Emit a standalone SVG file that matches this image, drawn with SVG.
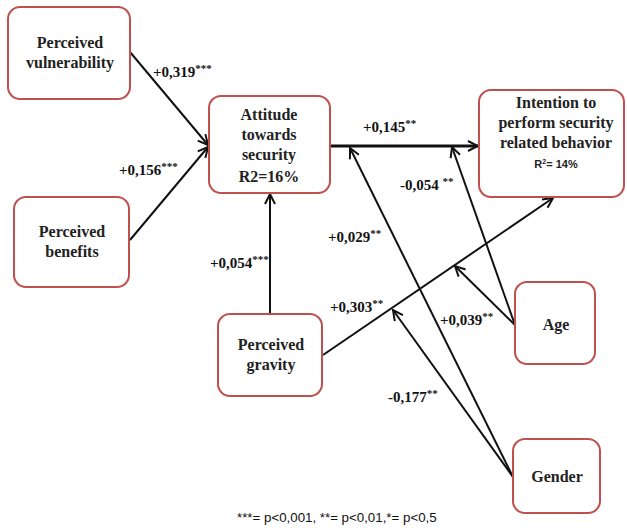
<svg xmlns="http://www.w3.org/2000/svg" width="627" height="531" viewBox="0 0 627 531">
<style>
.box{fill:#fff;stroke:#c0504d;stroke-width:2}
.nt{font-family:'Liberation Serif','DejaVu Serif',serif;font-weight:bold;font-size:16px;fill:#222;text-anchor:middle}
.lb{font-family:'Liberation Serif','DejaVu Serif',serif;font-weight:bold;font-size:15px;fill:#111}
.sup{font-size:11px}
.ln{stroke:#111;stroke-width:2;fill:none;marker-end:url(#ah)}
.foot{font-family:'Liberation Sans',sans-serif;font-size:13.3px;fill:#111}
</style>
<defs>
<marker id="ah" viewBox="0 0 12 12" refX="11" refY="6" markerWidth="12" markerHeight="12" markerUnits="userSpaceOnUse" orient="auto">
<path d="M1,1 L11,6 L1,11" fill="none" stroke="#111" stroke-width="2"/>
</marker>
</defs>
<rect width="627" height="531" fill="#fff"/>
<g id="connectors">
<line class="ln" x1="130" y1="52" x2="208" y2="145"/>
<line class="ln" x1="130" y1="240" x2="208" y2="147"/>
<line class="ln" x1="270" y1="314" x2="270" y2="194"/>
<line class="ln" x1="330" y1="146" x2="478" y2="146" style="stroke-width:3"/>
<line class="ln" x1="323" y1="355" x2="553" y2="198"/>
<line class="ln" x1="515" y1="325" x2="455" y2="266"/>
<line class="ln" x1="515" y1="325" x2="452" y2="147"/>
<line class="ln" x1="513" y1="477" x2="393" y2="310"/>
<line class="ln" x1="513" y1="477" x2="350" y2="148"/>
</g>
<g id="labels">
<text class="lb" x="153" y="77">+0,319<tspan class="sup" dy="-5">***</tspan></text>
<text class="lb" x="119" y="175">+0,156<tspan class="sup" dy="-5">***</tspan></text>
<text class="lb" x="210" y="268">+0,054<tspan class="sup" dy="-5">***</tspan></text>
<text class="lb" x="363" y="132">+0,145<tspan class="sup" dy="-5">**</tspan></text>
<text class="lb" x="400" y="190">-0,054 <tspan class="sup" dy="-5">**</tspan></text>
<text class="lb" x="328" y="242">+0,029<tspan class="sup" dy="-5">**</tspan></text>
<text class="lb" x="330" y="312">+0,303<tspan class="sup" dy="-5">**</tspan></text>
<text class="lb" x="440" y="325">+0,039<tspan class="sup" dy="-5">**</tspan></text>
<text class="lb" x="388" y="402">-0,177<tspan class="sup" dy="-5">**</tspan></text>
</g>
<g id="vulnerability">
<rect class="box" x="8" y="7" width="122" height="92" rx="12"/>
<text class="nt" x="70" y="48">Perceived</text>
<text class="nt" x="70" y="68">vulnerability</text>
</g>
<g id="benefits">
<rect class="box" x="14" y="197" width="115" height="90" rx="12"/>
<text class="nt" x="72" y="237">Perceived</text>
<text class="nt" x="72" y="257">benefits</text>
</g>
<g id="attitude">
<rect class="box" x="209" y="96" width="121" height="97" rx="12"/>
<text class="nt" x="269" y="120">Attitude</text>
<text class="nt" x="269" y="140">towards</text>
<text class="nt" x="269" y="160">security</text>
<text class="nt" x="269" y="182">R2=16%</text>
</g>
<g id="intention">
<rect class="box" x="479" y="90" width="145" height="107" rx="12"/>
<text class="nt" x="556" y="108">Intention to</text>
<text class="nt" x="556" y="128">perform security</text>
<text class="nt" x="556" y="148">related behavior</text>
<text class="nt" x="556" y="168" style="font-family:'Liberation Sans',sans-serif;font-size:11px">R<tspan font-size="7" dy="-4">2</tspan><tspan dy="4">= 14%</tspan></text>
</g>
<g id="gravity">
<rect class="box" x="218" y="314" width="104" height="82" rx="12"/>
<text class="nt" x="271" y="350">Perceived</text>
<text class="nt" x="271" y="370">gravity</text>
</g>
<g id="age">
<rect class="box" x="515" y="282" width="80" height="82" rx="12"/>
<text class="nt" x="556" y="330">Age</text>
</g>
<g id="gender">
<rect class="box" x="513" y="439" width="87" height="74" rx="12"/>
<text class="nt" x="557" y="482">Gender</text>
</g>
<text class="foot" x="237" y="522">***= p&lt;0,001, **= p&lt;0,01,*= p&lt;0,5</text>
</svg>
